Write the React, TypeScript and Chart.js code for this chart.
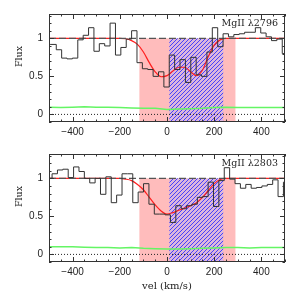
import React, { useEffect, useRef } from "react";
import { Chart, registerables } from "chart.js";
Chart.register(...registerables);

// ---------- data ----------
const BIN_WIDTH = 22.8; // km/s per spectral pixel
const TOP_BIN_START = -514.8;
const BOTTOM_BIN_START = -509.8;

const topFlux = [0.92, 0.92, 0.85, 0.74, 0.73, 0.74, 0.98, 1.04, 1.14, 0.83, 0.93, 0.9, 1.2, 0.78, 0.88, 0.99, 1.1, 0.68, 0.6, 0.59, 0.5, 0.56, 0.36, 0.78, 0.59, 0.72, 0.42, 0.75, 0.52, 0.5, 0.82, 1.14, 0.89, 1.06, 1.02, 1.05, 1.06, 1.08, 1.08, 1.14, 1.07, 1.02, 0.97, 0.99, 0.8];
const bottomFlux = [1.0, 1.06, 1.11, 1.12, 1.01, 1.15, 1.09, 1.0, 0.94, 1.0, 0.79, 1.02, 0.68, 0.78, 1.06, 1.06, 0.68, 0.82, 0.93, 0.66, 0.53, 0.53, 0.52, 0.42, 0.64, 0.6, 0.64, 0.66, 0.75, 0.76, 0.95, 0.63, 0.97, 1.14, 0.99, 0.93, 0.87, 0.92, 0.87, 0.88, 0.9, 0.92, 0.98, 0.76, 0.95];

const modelVel = [-500, -200, -175, -150, -125, -100, -75, -50, -25, 0, 25, 50, 75, 100, 125, 150, 175, 200, 225, 250, 275, 500];
const topModel = [1, 1, 0.995, 0.97, 0.92, 0.82, 0.68, 0.56, 0.495, 0.51, 0.57, 0.62, 0.62, 0.56, 0.51, 0.58, 0.76, 0.91, 0.98, 1.0, 1.0, 1.0];
const bottomModel = [1, 1, 0.99, 0.97, 0.92, 0.85, 0.75, 0.65, 0.57, 0.53, 0.55, 0.58, 0.61, 0.64, 0.68, 0.75, 0.84, 0.93, 0.985, 1.0, 1.0, 1.0];

const errVel = [-500, -450, -400, -350, -300, -250, -200, -150, -100, -50, 0, 50, 100, 150, 200, 250, 300, 350, 400, 450, 500];
const topErr = [0.095, 0.09, 0.095, 0.1, 0.095, 0.095, 0.09, 0.085, 0.08, 0.08, 0.065, 0.07, 0.075, 0.08, 0.09, 0.095, 0.09, 0.09, 0.09, 0.09, 0.09];
const bottomErr = [0.1, 0.1, 0.1, 0.095, 0.09, 0.09, 0.085, 0.09, 0.08, 0.075, 0.07, 0.07, 0.075, 0.08, 0.085, 0.09, 0.09, 0.085, 0.09, 0.09, 0.09];

const pinkBand = [-117, 290];
const hatchBand = [10, 238];
const continuumLevel = 1;
const zeroLevel = 0;

const xTicks = [-400, -200, 0, 200, 400];
const yTicks = [0, 0.5, 1];
const X_MIN = -500, X_MAX = 500, Y_MIN = -0.1, Y_MAX = 1.32;

const topLabel = "MgII λ2796";
const bottomLabel = "MgII λ2803";
const yTitle = "Flux";
const xTitle = "vel (km/s)";

// ---------- styling ----------
const PINK = "rgb(255,188,188)";
const HATCH_BG = "rgba(185,175,255,0.5)";
const HATCH = "rgb(45,45,255)";
const FRAME = "#333";
const TICK_FONT = { family: "'Liberation Sans', Arial, sans-serif", size: 10 };
const SERIF = "'DejaVu Serif', serif";

function histPoints(start: number, vals: number[]) {
  const pts = vals.map((v, i) => ({ x: start + i * BIN_WIDTH, y: v }));
  pts.push({ x: start + vals.length * BIN_WIDTH, y: vals[vals.length - 1] });
  return pts;
}
function pairs(xs: number[], ys: number[]) {
  return xs.map((x, i) => ({ x, y: ys[i] }));
}

let hatchCanvas: HTMLCanvasElement | null = null;
function getHatch(ctx: CanvasRenderingContext2D) {
  if (!hatchCanvas) {
    hatchCanvas = document.createElement("canvas");
    hatchCanvas.width = 4;
    hatchCanvas.height = 4;
    const g = hatchCanvas.getContext("2d")!;
    g.strokeStyle = HATCH;
    g.lineWidth = 0.85;
    g.beginPath();
    g.moveTo(0, 4); g.lineTo(4, 0);
    g.moveTo(-1, 1); g.lineTo(1, -1);
    g.moveTo(3, 5); g.lineTo(5, 3);
    g.stroke();
  }
  return ctx.createPattern(hatchCanvas, "repeat")!;
}

function decorPlugin(label: string, showXTitle: boolean) {
  return {
    id: "decor",
    beforeDatasetsDraw(chart: any) {
      const { ctx, chartArea: a, scales } = chart;
      const x = scales.x, y = scales.y;
      ctx.save();
      ctx.beginPath();
      ctx.rect(a.left, a.top, a.right - a.left, a.bottom - a.top);
      ctx.clip();
      const yTop = y.getPixelForValue(continuumLevel);
      const p0 = x.getPixelForValue(pinkBand[0]);
      const p1 = x.getPixelForValue(pinkBand[1]);
      ctx.fillStyle = PINK;
      ctx.fillRect(p0, yTop, p1 - p0, a.bottom - yTop);
      const h0 = x.getPixelForValue(hatchBand[0]);
      const h1 = x.getPixelForValue(hatchBand[1]);
      ctx.fillStyle = HATCH_BG;
      ctx.fillRect(h0, yTop, h1 - h0, a.bottom - yTop);
      ctx.fillStyle = getHatch(ctx);
      ctx.fillRect(h0, yTop, h1 - h0, a.bottom - yTop);
      ctx.restore();
    },
    afterDatasetsDraw(chart: any) {
      const { ctx, chartArea: a, scales } = chart;
      const x = scales.x, y = scales.y;
      ctx.save();
      ctx.strokeStyle = FRAME;
      ctx.lineWidth = 1;
      ctx.strokeRect(Math.round(a.left) + 0.5, Math.round(a.top) + 0.5, Math.round(a.right - a.left) - 1, Math.round(a.bottom - a.top) - 1);
      ctx.beginPath();
      for (let v = X_MIN; v <= X_MAX; v += 50) {
        const px = Math.round(x.getPixelForValue(v)) + 0.5;
        const len = xTicks.includes(v) ? 5 : 2.5;
        ctx.moveTo(px, a.bottom); ctx.lineTo(px, a.bottom - len);
        ctx.moveTo(px, a.top); ctx.lineTo(px, a.top + len);
      }
      for (let k = -1; k <= 13; k++) {
        const v = k / 10;
        const py = Math.round(y.getPixelForValue(v)) + 0.5;
        const len = k % 5 === 0 ? 5 : 2.5;
        ctx.moveTo(a.left, py); ctx.lineTo(a.left + len, py);
        ctx.moveTo(a.right, py); ctx.lineTo(a.right - len, py);
      }
      ctx.stroke();
      ctx.restore();
    },
    afterDraw(chart: any) {
      const { ctx, chartArea: a } = chart;
      ctx.save();
      ctx.fillStyle = "#222";
      ctx.font = `9.5px ${SERIF}`;
      ctx.textAlign = "right";
      ctx.textBaseline = "alphabetic";
      ctx.fillText(label, a.right - 7, a.top + 12);
      ctx.font = `9.5px ${SERIF}`;
      ctx.save();
      ctx.translate(20, a.top + 42.5);
      ctx.rotate(-Math.PI / 2);
      ctx.textAlign = "center";
      ctx.textBaseline = "middle";
      ctx.fillText(yTitle, 0, 0);
      ctx.restore();
      if (showXTitle) {
        ctx.textAlign = "center";
        ctx.textBaseline = "middle";
        ctx.font = `10px ${SERIF}`;
        ctx.fillText(xTitle, (a.left + a.right) / 2, a.bottom + 24);
      }
      ctx.restore();
    },
  };
}

function makeConfig(flux: number[], start: number, model: number[], err: number[], label: string, bottomPanel: boolean): any {
  return {
    type: "line",
    data: {
      datasets: [
        { data: histPoints(start, flux), borderColor: "#333", borderWidth: 1, pointRadius: 0, stepped: "before", fill: false },
        { data: [{ x: X_MIN, y: continuumLevel }, { x: X_MAX, y: continuumLevel }], borderColor: "#555", borderWidth: 1.2, borderDash: [7, 3], pointRadius: 0 },
        { data: pairs(modelVel, model), borderColor: "rgb(255,30,30)", borderWidth: 1.2, pointRadius: 0, cubicInterpolationMode: "monotone" },
        { data: [{ x: X_MIN, y: zeroLevel }, { x: X_MAX, y: zeroLevel }], borderColor: "#222", borderWidth: 1, borderDash: [1, 2], pointRadius: 0 },
        { data: pairs(errVel, err), borderColor: "rgb(100,245,100)", borderWidth: 1.5, pointRadius: 0 },
      ],
    },
    options: {
      animation: false,
      responsive: false,
      events: [],
      layout: { padding: { left: 0, right: 15, top: 14, bottom: 0 } },
      plugins: { legend: { display: false }, tooltip: { enabled: false }, title: { display: false } },
      scales: {
        x: {
          type: "linear",
          min: X_MIN,
          max: X_MAX,
          afterBuildTicks: (s: any) => { s.ticks = xTicks.map((v) => ({ value: v })); },
          afterFit: (s: any) => { s.height = bottomPanel ? 44 : 18; },
          ticks: {
            font: TICK_FONT,
            color: "#222",
            padding: 4,
            maxRotation: 0,
            autoSkip: false,
            callback: (v: number) => (v < 0 ? "\u2212" + Math.abs(v) : String(v)),
          },
          grid: { display: false, drawTicks: false },
          border: { display: false },
        },
        y: {
          type: "linear",
          min: Y_MIN,
          max: Y_MAX,
          afterBuildTicks: (s: any) => { s.ticks = yTicks.map((v) => ({ value: v })); },
          afterFit: (s: any) => { s.width = 49; },
          ticks: {
            font: TICK_FONT,
            color: "#222",
            padding: 6,
            callback: (v: number) => String(v),
          },
          grid: { display: false, drawTicks: false },
          border: { display: false },
        },
      },
    },
    plugins: [decorPlugin(label, bottomPanel)],
  };
}

export default function App() {
  const topRef = useRef<HTMLCanvasElement>(null);
  const botRef = useRef<HTMLCanvasElement>(null);
  useEffect(() => {
    const c1 = new Chart(topRef.current!, makeConfig(topFlux, TOP_BIN_START, topModel, topErr, topLabel, false));
    const c2 = new Chart(botRef.current!, makeConfig(bottomFlux, BOTTOM_BIN_START, bottomModel, bottomErr, bottomLabel, true));
    return () => { c1.destroy(); c2.destroy(); };
  }, []);
  return (
    <div style={{ position: "fixed", left: 0, top: 0, width: 300, height: 306, background: "#fff" }}>
      <canvas ref={topRef} width={300} height={140} style={{ position: "absolute", left: 0, top: 0, display: "block" }} />
      <canvas ref={botRef} width={300} height={166} style={{ position: "absolute", left: 0, top: 140, display: "block" }} />
    </div>
  );
}
